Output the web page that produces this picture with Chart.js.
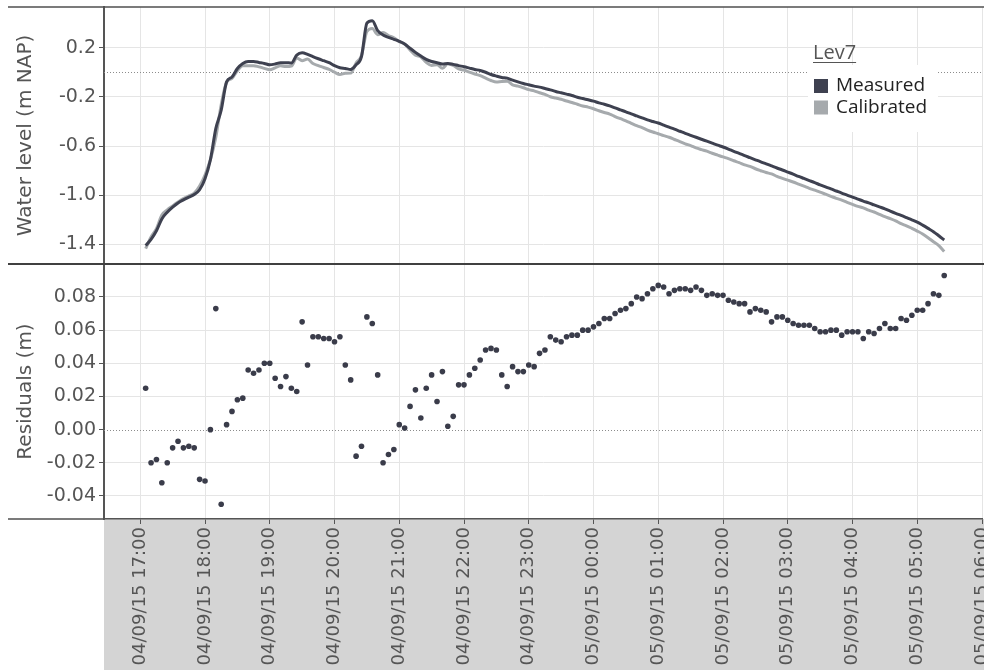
<!DOCTYPE html>
<html>
<head>
<meta charset="utf-8">
<script src="https://cdn.jsdelivr.net/npm/chart.js@4.4.0/dist/chart.umd.min.js"></script>
<style>
  html, body { margin: 0; padding: 0; background: #fff; overflow: hidden; }
  #wrap { position: relative; width: 986px; height: 670px; }
</style>
</head>
<body>
<div id="wrap"><canvas id="c" width="986" height="670"></canvas></div>
<script>
// Gauge Lev7, 5-minute samples from 04/09/15 17:05 to 05/09/15 05:25
const stationName = 'Lev7';

const sampleTimes = (
  '17:05 17:10 17:15 17:20 17:25 17:30 17:35 17:40 17:45 17:50 17:55 ' +
  '18:00 18:05 18:10 18:15 18:20 18:25 18:30 18:35 18:40 18:45 18:50 18:55 ' +
  '19:00 19:05 19:10 19:15 19:20 19:25 19:30 19:35 19:40 19:45 19:50 19:55 ' +
  '20:00 20:05 20:10 20:15 20:20 20:25 20:30 20:35 20:40 20:45 20:50 20:55 ' +
  '21:00 21:05 21:10 21:15 21:20 21:25 21:30 21:35 21:40 21:45 21:50 21:55 ' +
  '22:00 22:05 22:10 22:15 22:20 22:25 22:30 22:35 22:40 22:45 22:50 22:55 ' +
  '23:00 23:05 23:10 23:15 23:20 23:25 23:30 23:35 23:40 23:45 23:50 23:55 ' +
  '00:00 00:05 00:10 00:15 00:20 00:25 00:30 00:35 00:40 00:45 00:50 00:55 ' +
  '01:00 01:05 01:10 01:15 01:20 01:25 01:30 01:35 01:40 01:45 01:50 01:55 ' +
  '02:00 02:05 02:10 02:15 02:20 02:25 02:30 02:35 02:40 02:45 02:50 02:55 ' +
  '03:00 03:05 03:10 03:15 03:20 03:25 03:30 03:35 03:40 03:45 03:50 03:55 ' +
  '04:00 04:05 04:10 04:15 04:20 04:25 04:30 04:35 04:40 04:45 04:50 04:55 ' +
  '05:00 05:05 05:10 05:15 05:20 05:25'
).split(' ');

// Water level (m NAP)
const measured = [
  -1.410, -1.360, -1.290, -1.193, -1.139, -1.098, -1.063, -1.038, -1.016, -0.995, -0.956,
  -0.867, -0.712, -0.458, -0.309, -0.078, -0.038, 0.031, 0.072, 0.088, 0.088, 0.080, 0.072,
  0.061, 0.067, 0.078, 0.078, 0.075, 0.140, 0.159, 0.146, 0.127, 0.110, 0.094, 0.078,
  0.054, 0.037, 0.031, 0.023, 0.060, 0.127, 0.399, 0.420, 0.339, 0.303, 0.284, 0.268,
  0.252, 0.230, 0.195, 0.162, 0.132, 0.105, 0.088, 0.078, 0.067, 0.072, 0.064, 0.054,
  0.045, 0.034, 0.023, 0.014, 0.000, -0.018, -0.031, -0.042, -0.048, -0.064, -0.078, -0.091,
  -0.102, -0.113, -0.121, -0.132, -0.143, -0.156, -0.167, -0.178, -0.189, -0.203, -0.214, -0.224,
  -0.235, -0.249, -0.260, -0.273, -0.290, -0.306, -0.322, -0.339, -0.355, -0.371, -0.388, -0.401,
  -0.413, -0.430, -0.447, -0.463, -0.480, -0.497, -0.513, -0.529, -0.545, -0.561, -0.577, -0.593,
  -0.608, -0.625, -0.643, -0.660, -0.678, -0.695, -0.712, -0.729, -0.745, -0.762, -0.779, -0.795,
  -0.812, -0.829, -0.847, -0.864, -0.881, -0.898, -0.916, -0.933, -0.949, -0.966, -0.983, -0.999,
  -1.016, -1.032, -1.048, -1.063, -1.079, -1.095, -1.111, -1.130, -1.148, -1.165, -1.183, -1.201,
  -1.220, -1.244, -1.270, -1.297, -1.330, -1.365
];

const calibrated = [
  -1.435, -1.340, -1.272, -1.161, -1.119, -1.087, -1.056, -1.027, -1.006, -0.984, -0.926,
  -0.836, -0.712, -0.531, -0.264, -0.081, -0.049, 0.013, 0.053, 0.052, 0.054, 0.044, 0.032,
  0.021, 0.036, 0.052, 0.046, 0.050, 0.117, 0.094, 0.107, 0.071, 0.054, 0.039, 0.023,
  0.001, -0.019, -0.008, -0.007, 0.076, 0.137, 0.331, 0.356, 0.306, 0.323, 0.299, 0.280,
  0.249, 0.229, 0.181, 0.138, 0.125, 0.080, 0.055, 0.061, 0.032, 0.070, 0.056, 0.027,
  0.018, 0.001, -0.014, -0.028, -0.048, -0.067, -0.079, -0.075, -0.074, -0.102, -0.113, -0.126,
  -0.141, -0.151, -0.167, -0.180, -0.199, -0.210, -0.220, -0.234, -0.246, -0.260, -0.274, -0.284,
  -0.297, -0.313, -0.327, -0.340, -0.360, -0.378, -0.395, -0.415, -0.435, -0.450, -0.470, -0.486,
  -0.500, -0.516, -0.529, -0.547, -0.565, -0.582, -0.597, -0.615, -0.629, -0.642, -0.659, -0.674,
  -0.689, -0.703, -0.720, -0.736, -0.754, -0.766, -0.785, -0.801, -0.816, -0.827, -0.847, -0.863,
  -0.878, -0.893, -0.910, -0.927, -0.944, -0.959, -0.975, -0.992, -1.009, -1.026, -1.040, -1.058,
  -1.075, -1.091, -1.103, -1.122, -1.137, -1.156, -1.175, -1.191, -1.209, -1.232, -1.249, -1.270,
  -1.292, -1.316, -1.346, -1.379, -1.411, -1.458
];

// Residuals (m), measured minus calibrated
const residuals = [
  0.025, -0.020, -0.018, -0.032, -0.020, -0.011, -0.007, -0.011, -0.010, -0.011, -0.030,
  -0.031, 0.000, 0.073, -0.045, 0.003, 0.011, 0.018, 0.019, 0.036, 0.034, 0.036, 0.040,
  0.040, 0.031, 0.026, 0.032, 0.025, 0.023, 0.065, 0.039, 0.056, 0.056, 0.055, 0.055,
  0.053, 0.056, 0.039, 0.030, -0.016, -0.010, 0.068, 0.064, 0.033, -0.020, -0.015, -0.012,
  0.003, 0.001, 0.014, 0.024, 0.007, 0.025, 0.033, 0.017, 0.035, 0.002, 0.008, 0.027,
  0.027, 0.033, 0.037, 0.042, 0.048, 0.049, 0.048, 0.033, 0.026, 0.038, 0.035, 0.035,
  0.039, 0.038, 0.046, 0.048, 0.056, 0.054, 0.053, 0.056, 0.057, 0.057, 0.060, 0.060,
  0.062, 0.064, 0.067, 0.067, 0.070, 0.072, 0.073, 0.076, 0.080, 0.079, 0.082, 0.085,
  0.087, 0.086, 0.082, 0.084, 0.085, 0.085, 0.084, 0.086, 0.084, 0.081, 0.082, 0.081,
  0.081, 0.078, 0.077, 0.076, 0.076, 0.071, 0.073, 0.072, 0.071, 0.065, 0.068, 0.068,
  0.066, 0.064, 0.063, 0.063, 0.063, 0.061, 0.059, 0.059, 0.060, 0.060, 0.057, 0.059,
  0.059, 0.059, 0.055, 0.059, 0.058, 0.061, 0.064, 0.061, 0.061, 0.067, 0.066, 0.069,
  0.072, 0.072, 0.076, 0.082, 0.081, 0.093
];

// Axis tick labels
const timeTickLabels = [
  '04/09/15 17:00', '04/09/15 18:00', '04/09/15 19:00', '04/09/15 20:00', '04/09/15 21:00',
  '04/09/15 22:00', '04/09/15 23:00', '05/09/15 00:00', '05/09/15 01:00', '05/09/15 02:00',
  '05/09/15 03:00', '05/09/15 04:00', '05/09/15 05:00', '05/09/15 06:00'
];
const levelTickLabels = ['0.2', '-0.2', '-0.6', '-1.0', '-1.4'];
const residualTickLabels = ['0.08', '0.06', '0.04', '0.02', '0.00', '-0.02', '-0.04'];

// hours since 04/09/15 00:00
const toHours = t => {
  const [h, m] = t.split(':').map(Number);
  return (h < 12 ? h + 24 : h) + m / 60;
};
const xs = sampleTimes.map(toHours);
const toPoints = arr => arr.map((v, i) => ({ x: xs[i], y: v }));

const INK = '#555';
const GRID = '#e5e5e5';
const X_TICK_FONT = { family: 'DejaVu Sans', size: 18 };
const Y_TICK_FONT = { family: 'DejaVu Sans', size: 19 };
const TITLE_FONT = { family: 'DejaVu Sans', size: 20 };

const isZero = v => Math.abs(v) < 1e-9;

// keep the plot area edge-to-edge: no extra room for overhanging tick labels
const noOverhang = s => { s.paddingLeft = 0; s.paddingRight = 0; s.paddingTop = 0; s.paddingBottom = 0; };

const frame = {
  id: 'frame',
  beforeDraw(chart) {
    const { ctx, chartArea, scales } = chart;
    ctx.save();
    ctx.fillStyle = '#d4d4d4';
    ctx.fillRect(chartArea.left, scales.x.top, chart.width - chartArea.left, chart.height - scales.x.top);
    ctx.restore();
  },
  beforeDatasetsDraw(chart) {
    const { ctx, chartArea, scales } = chart;
    ctx.save();
    ctx.strokeStyle = '#8c8c8c';
    ctx.lineWidth = 1;
    ctx.setLineDash([1, 2]);
    ['y', 'y2'].forEach(id => {
      const py = Math.round(scales[id].getPixelForValue(0)) + 0.5;
      ctx.beginPath();
      ctx.moveTo(chartArea.left, py);
      ctx.lineTo(chartArea.right, py);
      ctx.stroke();
    });
    ctx.restore();
  },
  afterDraw(chart) {
    const { ctx, chartArea, scales } = chart;
    ctx.save();
    ctx.strokeStyle = '#505050';
    ctx.lineWidth = 1.5;
    ctx.beginPath();
    ctx.moveTo(8, chartArea.top);
    ctx.lineTo(chart.width, chartArea.top);
    ctx.moveTo(8, chartArea.bottom);
    ctx.lineTo(chartArea.left, chartArea.bottom);
    ctx.stroke();
    ctx.strokeStyle = '#404040';
    ctx.lineWidth = 2;
    ctx.beginPath();
    ctx.moveTo(8, scales.y.bottom);
    ctx.lineTo(chart.width, scales.y.bottom);
    ctx.stroke();

    // legend
    const lx = 808, ly = 65;
    ctx.fillStyle = '#fff';
    ctx.fillRect(lx, ly, 130, 67);
    ctx.fillStyle = '#555';
    ctx.font = '20px "Open Sans"';
    ctx.textBaseline = 'alphabetic';
    ctx.textAlign = 'left';
    ctx.fillText(stationName, lx + 5, 59);
    const w = ctx.measureText(stationName).width;
    ctx.strokeStyle = '#555';
    ctx.lineWidth = 1;
    ctx.beginPath();
    ctx.moveTo(lx + 5, 62.5);
    ctx.lineTo(lx + 5 + w, 62.5);
    ctx.stroke();
    ctx.font = '19px "Open Sans"';
    ctx.textBaseline = 'middle';
    chart.data.datasets.slice(0, 2).forEach((ds, i) => {
      const cy = 86 + i * 21.5;
      ctx.fillStyle = ds.borderColor;
      ctx.fillRect(lx + 6, cy - 7, 14, 14);
      ctx.fillStyle = '#222';
      ctx.fillText(ds.label, lx + 28, cy);
    });
    ctx.restore();
  }
};

new Chart(document.getElementById('c'), {
  type: 'line',
  data: {
    datasets: [
      {
        label: 'Measured', data: toPoints(measured), yAxisID: 'y',
        borderColor: '#3e4150', borderWidth: 3, pointRadius: 0,
        cubicInterpolationMode: 'monotone', fill: false
      },
      {
        label: 'Calibrated', data: toPoints(calibrated), yAxisID: 'y',
        borderColor: '#a6aaad', borderWidth: 3, pointRadius: 0,
        cubicInterpolationMode: 'monotone', fill: false
      },
      {
        type: 'scatter', label: 'Residuals', data: toPoints(residuals), yAxisID: 'y2',
        backgroundColor: '#3a3c4a', borderWidth: 0, pointRadius: 2.8, showLine: false
      }
    ]
  },
  options: {
    responsive: false,
    animation: false,
    layout: { padding: { top: 7, left: 0, right: 0, bottom: 0 } },
    plugins: { legend: { display: false }, tooltip: { enabled: false } },
    scales: {
      x: {
        type: 'linear', min: 16.44, max: 30,
        afterFit: s => { s.height = 151; noOverhang(s); },
        grid: { color: GRID, lineWidth: 1, tickColor: INK, tickLength: 5 },
        border: { display: true, color: INK, width: 1.5 },
        ticks: {
          stepSize: 1, includeBounds: false, autoSkip: false,
          maxRotation: 90, minRotation: 90, padding: 3,
          color: INK, font: X_TICK_FONT,
          callback: v => timeTickLabels[Math.round(v) - 17] ?? ''
        }
      },
      y: {
        type: 'linear', position: 'left', stack: 'panels', stackWeight: 257, weight: 2,
        min: -1.56, max: 0.531,
        afterFit: s => { s.width = 104; noOverhang(s); },
        grid: { color: c => (c.tick && isZero(c.tick.value)) ? 'rgba(0,0,0,0)' : GRID, tickColor: INK, tickLength: 5 },
        border: { display: true, color: INK, width: 2 },
        title: { display: true, text: 'Water level (m NAP)', color: INK, font: TITLE_FONT, padding: { top: 14, bottom: 0 } },
        ticks: {
          stepSize: 0.2, includeBounds: false, padding: 3, color: INK, font: Y_TICK_FONT,
          callback: v => { const s = (Math.round(v * 10) / 10).toFixed(1); return levelTickLabels.includes(s) ? s : ''; }
        }
      },
      y2: {
        type: 'linear', position: 'left', stack: 'panels', stackWeight: 255, weight: 1,
        min: -0.0539, max: 0.0999,
        afterFit: s => { s.width = 104; noOverhang(s); },
        grid: { color: c => (c.tick && isZero(c.tick.value)) ? 'rgba(0,0,0,0)' : GRID, tickColor: INK, tickLength: 5 },
        border: { display: true, color: INK, width: 2 },
        title: { display: true, text: 'Residuals (m)', color: INK, font: TITLE_FONT, padding: { top: 14, bottom: 0 } },
        ticks: {
          stepSize: 0.02, includeBounds: false, padding: 3, color: INK, font: Y_TICK_FONT,
          callback: v => { const s = (Math.round(v * 100) / 100).toFixed(2); return residualTickLabels.includes(s) ? s : ''; }
        }
      }
    }
  },
  plugins: [frame]
});
</script>
</body>
</html>
